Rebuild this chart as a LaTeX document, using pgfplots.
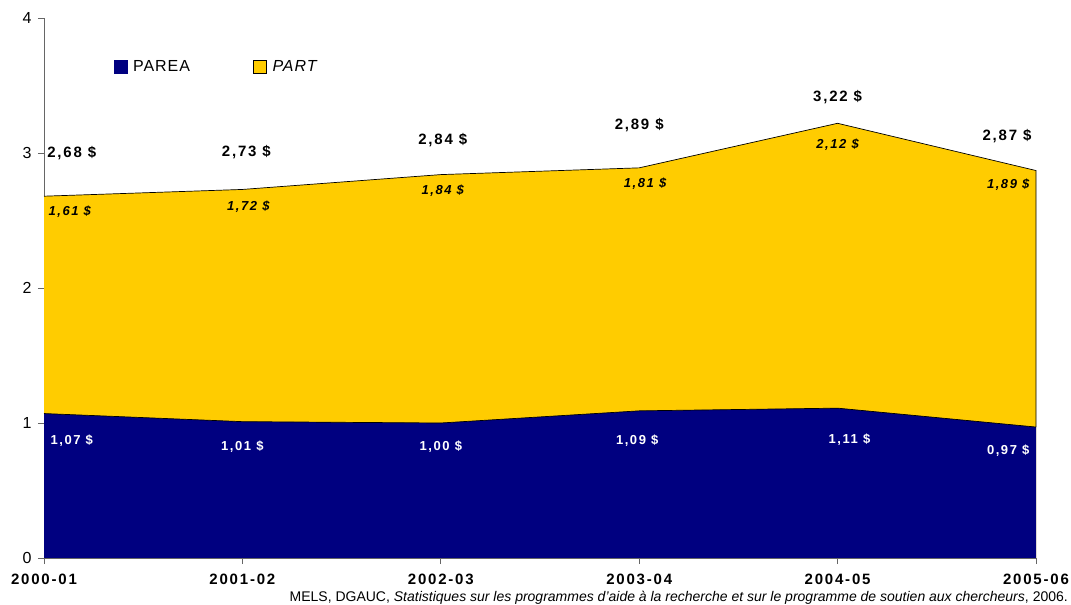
\documentclass[border=0pt]{standalone}
\usepackage{fontspec}
\setmainfont{Liberation Sans}
\newfontfamily\wide[LetterSpace=12]{Liberation Sans}
\newfontfamily\semiwide[LetterSpace=6]{Liberation Sans}
\usepackage{pgfplots}
\pgfplotsset{compat=1.18}
\definecolor{navyc}{RGB}{0,0,128}
\definecolor{goldc}{RGB}{255,204,0}
\begin{document}
\begin{tikzpicture}
\begin{axis}[
  at={(44pt,47pt)}, anchor=south west, scale only axis,
  width=992pt, height=540pt,
  xmin=0, xmax=5, ymin=0, ymax=4,
  axis x line*=bottom, axis y line*=left,
  axis line style={-, draw=black!60, line width=0.8pt},
  xtick={0,1,2,3,4,5},
  xticklabels={2000-01,2001-02,2002-03,2003-04,2004-05,2005-06},
  ytick={0,1,2,3,4},
  tick align=outside, major tick length=6pt,
  tick style={draw=black!60, line width=0.8pt},
  /pgf/number format/assume math mode=true,
  yticklabel style={font=\semiwide\fontsize{16}{18}\selectfont, xshift=-3pt},
  xticklabel style={font=\wide\bfseries\fontsize{15}{17}\selectfont, yshift=-6pt},
  legend style={at={(0.1745,0.909)}, anchor=center, draw=none, fill=none,
    legend columns=2, font=\semiwide\fontsize{16}{18}\selectfont,
    /tikz/every even column/.append style={column sep=61pt}},
  legend cell align=left,
  clip=false,
]
% total (top of PART)
\addplot[fill=goldc, draw=none, forget plot] coordinates {(0,2.68) (1,2.73) (2,2.84) (3,2.89) (4,3.22) (5,2.87)} \closedcycle;
% PAREA
\addplot[fill=navyc, draw=none, forget plot] coordinates {(0,1.07) (1,1.01) (2,1.00) (3,1.09) (4,1.11) (5,0.97)} \closedcycle;
\addplot[black, line width=0.7pt, forget plot] coordinates {(0,2.68) (1,2.73) (2,2.84) (3,2.89) (4,3.22) (5,2.87) (5,0.97)};
\addplot[black, line width=0.7pt, forget plot] coordinates {(0,1.07) (1,1.01) (2,1.00) (3,1.09) (4,1.11) (5,0.97)};
% labels PAREA
\addplot[draw=none, forget plot, nodes near coords={\pgfplotspointmeta~\$}, point meta=explicit symbolic,
  every node near coord/.append style={anchor=center, text=white, font=\wide\bfseries\fontsize{13}{15}\selectfont}]
  table[meta=l] {
x y l
0.14 0.867 1,07
1.00 0.822 1,01
2.00 0.822 1,00
2.99 0.867 1,09
4.06 0.874 1,11
4.86 0.793 0,97
};
% labels PART
\addplot[draw=none, forget plot, nodes near coords={\pgfplotspointmeta~\$}, point meta=explicit symbolic,
  every node near coord/.append style={anchor=center, text=black, font=\wide\bfseries\itshape\fontsize{13}{15}\selectfont}]
  table[meta=l] {
x y l
0.13 2.563 1,61
1.03 2.600 1,72
2.01 2.719 1,84
3.03 2.770 1,81
4.00 3.059 2,12
4.86 2.763 1,89
};
% labels total
\addplot[draw=none, forget plot, nodes near coords={\pgfplotspointmeta~\$}, point meta=explicit symbolic,
  every node near coord/.append style={anchor=center, text=black, font=\wide\bfseries\fontsize{15}{17}\selectfont}]
  table[meta=l] {
x y l
0.14 3.000 2,68
1.02 3.007 2,73
2.01 3.096 2,84
3.00 3.207 2,89
4.00 3.415 3,22
4.854 3.126 2,87
};
\addlegendimage{legend image code/.code={\fill[navyc] (0pt,-6.5pt) rectangle (13pt,6.5pt); \path (17pt,0pt);}}
\addlegendentry{PAREA}
\addlegendimage{legend image code/.code={\path[fill=goldc, draw=black, line width=0.6pt] (0pt,-6.5pt) rectangle (13pt,6.5pt); \path (17pt,0pt);}}
\addlegendentry{\textit{PART}}
\end{axis}
\node[anchor=base east, font=\fontsize{14}{16}\selectfont, inner sep=0pt] at (1068pt,3.5pt)
  {MELS, DGAUC, \textit{Statistiques sur les programmes d'aide à la recherche et sur le programme de soutien aux chercheurs}, 2006.};
\pgfresetboundingbox
\useasboundingbox (0pt,0pt) rectangle (1071pt,605pt);
\end{tikzpicture}
\end{document}
